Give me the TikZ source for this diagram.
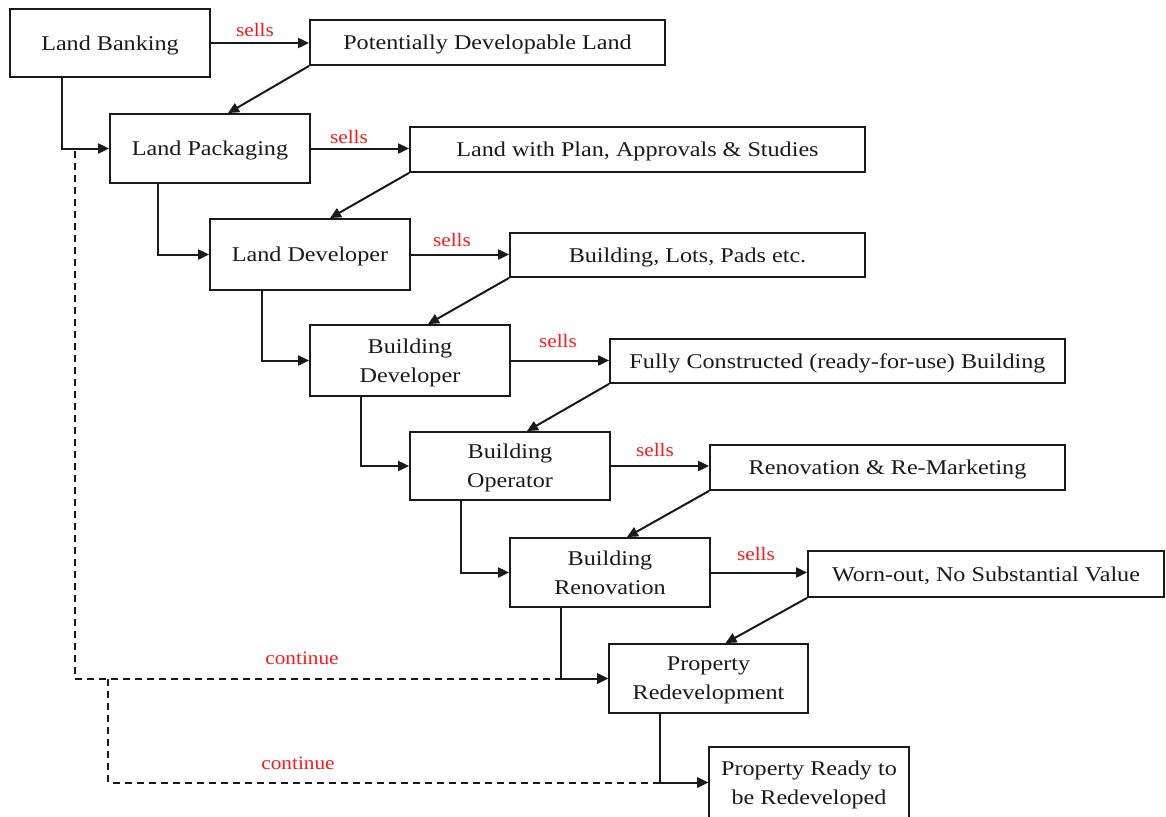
\documentclass[tikz,border=0pt]{standalone}
\usepackage{fontspec}
\setmainfont{Liberation Serif}
\newfontfamily\boxfont{Liberation Serif}[FakeStretch=1.15]
\newfontfamily\labelfont{Liberation Serif}[FakeStretch=1.12]
\usetikzlibrary{arrows.meta}
\definecolor{ink}{HTML}{1A1A1A}
\definecolor{labelred}{HTML}{FF1A1A}
\tikzset{
  box/.style={draw=ink, line width=1.8pt, rectangle, inner sep=0pt, text depth=0pt,
    font=\boxfont\fontsize{21}{29}\selectfont, text=ink, align=center},
  arr/.style={draw=ink, line width=2pt, -{Triangle[length=11pt,width=10pt]}},
  dashline/.style={draw=ink, line width=2pt, dash pattern=on 7pt off 5pt},
  redlabel/.style={text=labelred, font=\labelfont\fontsize{19}{22}\selectfont, inner sep=0pt}
}
\begin{document}
\begin{tikzpicture}[x=1pt,y=-1pt]
  \clip (0,0) rectangle (1166,816);
  \fill[white] (0,0) rectangle (1166,816);

  % stages (left column, stepping down to the right)
  \node[box, minimum width=200pt, minimum height=68pt] (lb)  at (110,43)    {Land Banking};
  \node[box, minimum width=200pt, minimum height=69pt] (lp)  at (210,148.5) {Land Packaging};
  \node[box, minimum width=200pt, minimum height=71pt] (ld)  at (310,254.5) {Land Developer};
  \node[box, minimum width=200pt, minimum height=71pt] (bd)  at (410,360.5) {Building\\Developer};
  \node[box, minimum width=200pt, minimum height=68pt] (bo)  at (510,466)   {Building\\Operator};
  \node[box, minimum width=200pt, minimum height=69pt] (br)  at (610,572.5) {Building\\Renovation};
  \node[box, minimum width=199pt, minimum height=69pt] (pr)  at (708.5,678.5) {Property\\Redevelopment};
  \node[box, minimum width=200pt, minimum height=71pt] (prr) at (809,782.5) {Property Ready to\\be Redeveloped};

  % products sold at each stage
  \node[box, minimum width=355pt, minimum height=45pt] (pdl) at (487.5,42.5)  {Potentially Developable Land};
  \node[box, minimum width=455pt, minimum height=45pt] (lpa) at (637.5,149.5) {Land with Plan, Approvals \& Studies};
  \node[box, minimum width=355pt, minimum height=44pt] (blp) at (687.5,255)   {Building, Lots, Pads etc.};
  \node[box, minimum width=455pt, minimum height=44pt] (fcb) at (837.5,361)   {Fully Constructed (ready-for-use) Building};
  \node[box, minimum width=355pt, minimum height=45pt] (rrm) at (887.5,467.5) {Renovation \& Re-Marketing};
  \node[box, minimum width=356pt, minimum height=46pt] (wo)  at (986,574)     {Worn-out, No Substantial Value};

  % sells arrows
  \draw[arr] (lb.east) -- (lb.east -| pdl.west);
  \draw[arr] (lp.east) -- (lp.east -| lpa.west);
  \draw[arr] (ld.east) -- (ld.east -| blp.west);
  \draw[arr] (bd.east) -- (bd.east -| fcb.west);
  \draw[arr] (bo.east) -- (bo.east -| rrm.west);
  \draw[arr] (br.east) -- (br.east -| wo.west);

  \node[redlabel] (s1) at (255,30)  {sells};
  \node[redlabel] (s2) at (349,137) {sells};
  \node[redlabel] (s3) at (452,240) {sells};
  \node[redlabel] (s4) at (558,341) {sells};
  \node[redlabel] (s5) at (655,450) {sells};
  \node[redlabel] (s6) at (756,554) {sells};

  % products feeding the next stage
  \draw[arr] (pdl.south west) -- ([xshift=18pt]lp.north);
  \draw[arr] (lpa.south west) -- ([xshift=20pt]ld.north);
  \draw[arr] (blp.south west) -- ([xshift=18pt]bd.north);
  \draw[arr] (fcb.south west) -- ([xshift=17pt]bo.north);
  \draw[arr] (rrm.south west) -- ([xshift=17pt]br.north);
  \draw[arr] (wo.south west)  -- ([xshift=17pt]pr.north);

  % stage to stage elbows
  \draw[arr] ([xshift=-48pt]lb.south) |- (lp.west);
  \draw[arr] ([xshift=-52.5pt]lp.south) |- (ld.west);
  \draw[arr] ([xshift=-48pt]ld.south) |- (bd.west);
  \draw[arr] ([xshift=-49pt]bd.south) |- (bo.west);
  \draw[arr] ([xshift=-49pt]bo.south) |- (br.west);
  \draw[arr] ([xshift=-49pt]br.south) |- (pr.west);
  \draw[arr] ([xshift=-48.5pt]pr.south) |- (prr.west);

  % continuation paths
  \coordinate (c1) at (74.5,151);
  \coordinate (c2) at (108,679);
  \draw[dashline, -{Triangle[length=11pt,width=10pt]}] (c1) |- (pr.west);
  \draw[dashline, -{Triangle[length=11pt,width=10pt]}] (c2) |- (prr.west);

  \node[redlabel] (k1) at (302,658) {continue};
  \node[redlabel] (k2) at (298,763) {continue};
\end{tikzpicture}
\end{document}
